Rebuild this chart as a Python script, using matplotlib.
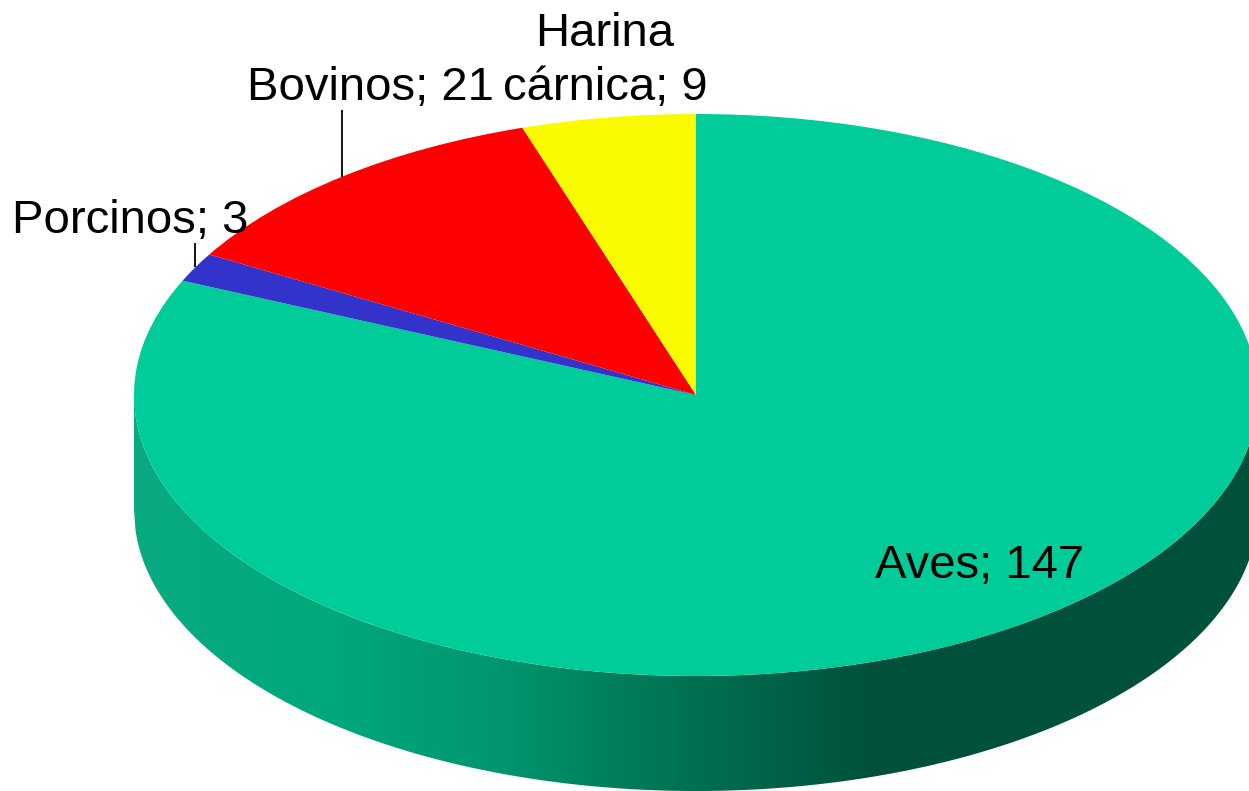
import numpy as np
import matplotlib
matplotlib.use("Agg")
import matplotlib.pyplot as plt
from matplotlib.colors import LinearSegmentedColormap

W, H = 1249, 791

# datos del grafico
categorias = ["Aves", "Porcinos", "Bovinos", "Harina\ncárnica"]
valores = [147, 3, 21, 9]
colores = ["#00CC99", "#3333CC", "#FF0000", "#FBFB00"]

# geometria en pixeles de la imagen
cx, cy = 696, 395
rx, ry = 562, 281
fondo = 115 / ry

plt.rcParams["font.family"] = ["Liberation Sans", "DejaVu Sans"]

fig = plt.figure(figsize=(W / 100, H / 100), dpi=100)
ax = fig.add_axes([0, 0, 1, 1])


def px(x, y):
    # pasa pixeles de la imagen a unidades del pie
    return (x - cx) / rx, (cy - y) / ry


# cara superior
wedges, _ = ax.pie(valores, colors=colores, startangle=90, counterclock=False,
                   radius=1, center=(0, 0), frame=False)
for w in wedges:
    w.set_zorder(3)
    w.set_linewidth(0)

# lateral con degradado, recortado a la banda inferior de la elipse
xs = np.linspace(-1, 1, 721)
arriba = -np.sqrt(1 - xs ** 2)
banda = ax.fill_between(xs, arriba, arriba - fondo, color="none", linewidth=0)
tramos = [(134, "#0AAB82"), (330, "#00A87C"), (500, "#00966F"), (620, "#007D5C"),
          (870, "#00513C"), (1258, "#00513C")]
cmap = LinearSegmentedColormap.from_list(
    "lateral", [((x - 134) / (1258 - 134), c) for x, c in tramos], N=512)
img = ax.imshow(np.linspace(0, 1, 1024)[None, :], cmap=cmap, aspect="auto",
                extent=(-1, 1, -1 - fondo, 0), zorder=2, interpolation="bilinear")
img.set_clip_path(banda.get_paths()[0], transform=ax.transData)

# lineas guia desde el punto medio de cada sector
acum = np.cumsum([0] + valores) / sum(valores) * 360
medio = np.radians(90 - (acum[:-1] + acum[1:]) / 2)
for i, y_fin in [(1, 243), (2, 110)]:
    x0, y0 = np.cos(medio[i]), np.sin(medio[i])
    ax.plot([x0, x0], [y0, px(0, y_fin)[1]], color="black", lw=1.3, zorder=4,
            solid_capstyle="butt")

# etiquetas
fs = 34
etiquetas = [(875, 578, "left"), (12, 233, "left"), (247, 100, "left"), (605, 100, "center")]
for nombre, valor, (x, y, ha) in zip(categorias, valores, etiquetas):
    tx, ty = px(x, y)
    ax.text(tx, ty, f"{nombre}; {valor}", fontsize=fs, ha=ha, va="baseline",
            multialignment="center", linespacing=1.28, color="black", zorder=5)

ax.set_aspect("auto")
ax.set_xlim(px(0, 0)[0], px(W, 0)[0])
ax.set_ylim(px(0, H)[1], px(0, 0)[1])
ax.axis("off")

fig.savefig("out.png", dpi=100, facecolor="white")
